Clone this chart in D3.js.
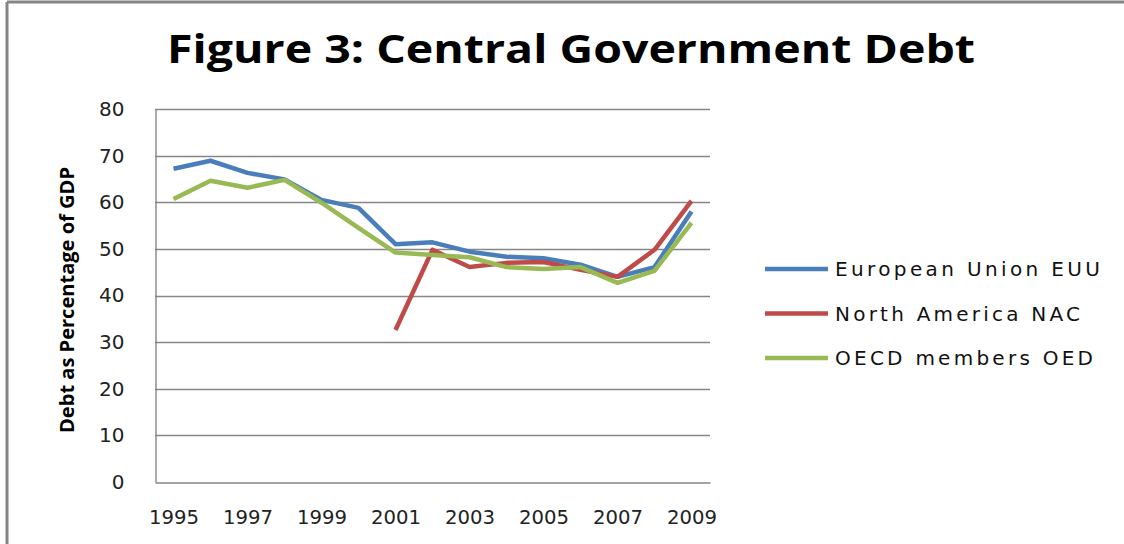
<!DOCTYPE html>
<html>
<head>
<meta charset="utf-8">
<script src="https://cdn.jsdelivr.net/npm/d3@7"></script>
<style>
    body { margin: 0; background: #fff; }
    svg { display: block; }
</style>
</head>
<body>
<div id="chart"></div>
<script>
// ── Data ─────────────────────────────────────────────
const years = ['1995','1996','1997','1998','1999','2000','2001','2002','2003','2004','2005','2006','2007','2008','2009'];
const tickYears = ['1995','1997','1999','2001','2003','2005','2007','2009'];
const yTicks = [0, 10, 20, 30, 40, 50, 60, 70, 80];

const euu = [67.2, 68.9, 66.3, 64.9, 60.5, 58.8, 51.0, 51.4, 49.4, 48.3, 48.0, 46.6, 44.0, 46.1, 58.0];
const nac = [null, null, null, null, null, null, 32.6, 49.8, 46.1, 47.0, 47.2, 45.5, 44.0, 49.8, 60.3];
const oed = [60.7, 64.6, 63.1, 64.8, 59.9, 54.5, 49.2, 48.7, 48.2, 46.1, 45.7, 46.1, 42.7, 45.3, 55.6];

const seriesNames = ['European Union EUU', 'North America NAC', 'OECD members OED'];
const seriesColors = ['#4a7ebb', '#be4b48', '#98b954'];

// ── Layout ───────────────────────────────────────────
const W = 1124, H = 544;
const plot = { left: 155, right: 710, top: 109, bottom: 482 };
const tickFont = "'DejaVu Sans', sans-serif";

const svg = d3.select('#chart').append('svg')
    .attr('width', W)
    .attr('height', H);

// chart border (top + left only visible)
svg.append('line').attr('x1', 7).attr('x2', W).attr('y1', 2).attr('y2', 2)
    .attr('stroke', '#868686').attr('stroke-width', 3);
svg.append('line').attr('x1', 7).attr('x2', 7).attr('y1', 2).attr('y2', H)
    .attr('stroke', '#868686').attr('stroke-width', 3);

const x = d3.scalePoint()
    .domain(years)
    .range([plot.left, plot.right])
    .padding(0.5);

const y = d3.scaleLinear()
    .domain([0, 80])
    .range([plot.bottom, plot.top]);

// Gridlines
svg.append('g')
    .selectAll('line')
    .data(yTicks.filter(d => d > 0))
    .enter()
    .append('line')
    .attr('x1', plot.left)
    .attr('x2', plot.right)
    .attr('y1', d => Math.round(y(d)) + 0.5)
    .attr('y2', d => Math.round(y(d)) + 0.5)
    .attr('stroke', '#868686')
    .attr('stroke-width', 1.4);

// Y axis
const yAxis = svg.append('g')
    .attr('transform', `translate(${plot.left + 0.5},0)`)
    .call(d3.axisLeft(y).tickValues(yTicks).tickSize(0).tickPadding(31));
yAxis.select('.domain').attr('stroke', '#868686').attr('stroke-width', 1.4);
yAxis.selectAll('text')
    .attr('font-family', tickFont)
    .attr('font-size', 20)
    .attr('fill', '#222');

// X axis
const xAxis = svg.append('g')
    .attr('transform', `translate(0,${plot.bottom + 0.5})`)
    .call(d3.axisBottom(x).tickValues(tickYears).tickSize(0).tickPadding(27));
xAxis.select('.domain').attr('stroke', '#868686').attr('stroke-width', 1.4);
xAxis.selectAll('text')
    .attr('font-family', tickFont)
    .attr('font-size', 20)
    .attr('textLength', 50)
    .attr('lengthAdjust', 'spacingAndGlyphs')
    .attr('fill', '#222');

// Lines
const lineGen = d3.line()
    .defined(d => d.v !== null)
    .x(d => x(d.year))
    .y(d => y(d.v));

[euu, nac, oed].forEach((vals, i) => {
    svg.append('path')
        .datum(years.map((yr, j) => ({ year: yr, v: vals[j] })))
        .attr('fill', 'none')
        .attr('stroke', seriesColors[i])
        .attr('stroke-width', 4.5)
        .attr('stroke-linejoin', 'round')
        .attr('d', lineGen);
});

// Title
svg.append('text')
    .attr('x', 167)
    .attr('y', 63)
    .attr('textLength', 808)
    .attr('lengthAdjust', 'spacingAndGlyphs')
    .style('font-family', "'Open Sans', sans-serif")
    .style('font-weight', 'bold')
    .style('font-size', '40px')
    .attr('fill', '#000')
    .text('Figure 3: Central Government Debt');

// Y axis title
svg.append('text')
    .attr('transform', 'translate(74,300) rotate(-90)')
    .attr('text-anchor', 'middle')
    .attr('textLength', 266)
    .attr('lengthAdjust', 'spacingAndGlyphs')
    .style('font-family', "'Open Sans', sans-serif")
    .style('font-weight', 'bold')
    .style('font-size', '20px')
    .attr('fill', '#000')
    .text('Debt as Percentage of GDP');

// Legend
const legend = svg.append('g');
seriesNames.forEach((name, i) => {
    const ly = 269 + i * 44.5;
    legend.append('line')
        .attr('x1', 765).attr('x2', 828)
        .attr('y1', ly).attr('y2', ly)
        .attr('stroke', seriesColors[i])
        .attr('stroke-width', 4.5);
    legend.append('text')
        .attr('x', 835)
        .attr('y', ly + 7)
        .attr('textLength', [265, 245, 258][i])
        .attr('lengthAdjust', 'spacing')
        .attr('font-family', tickFont)
        .attr('font-size', 20)
        .attr('fill', '#111')
        .text(name);
});
</script>
</body>
</html>
